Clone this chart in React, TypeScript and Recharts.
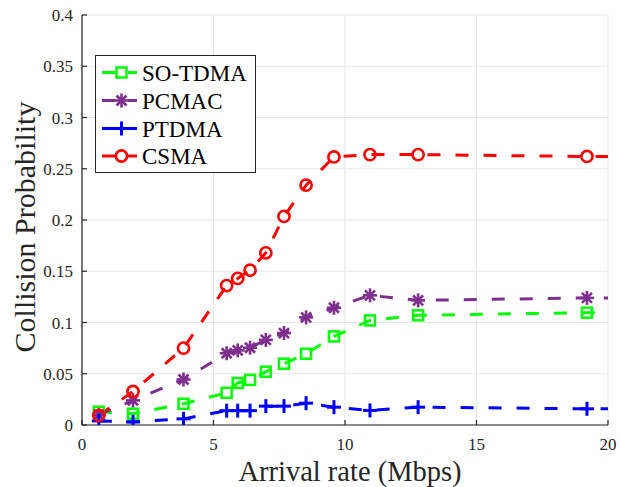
import React from 'react';
import { LineChart, Line, XAxis, YAxis, CartesianGrid } from 'recharts';

// Arrival rate (Mbps) of each simulated operating point; the last one lies past the axis limit.
const rates = [0.64, 1.94, 3.86, 5.5, 5.92, 6.39, 6.99, 7.68, 8.52, 9.58, 10.95, 12.78, 19.2, 25.6];

// Collision probability per protocol.
const soTdma = [0.013, 0.011, 0.0207, 0.0314, 0.041, 0.044, 0.052, 0.0598, 0.0695, 0.0864, 0.102, 0.107, 0.1096, 0.11];
const pcmac = [0.01, 0.024, 0.0444, 0.07, 0.0728, 0.0754, 0.083, 0.0897, 0.105, 0.1144, 0.1265, 0.1216, 0.124, 0.124];
const ptdma = [0.004, 0.003, 0.006, 0.014, 0.014, 0.014, 0.0184, 0.0184, 0.0213, 0.0174, 0.0142, 0.0174, 0.0158, 0.0158];
const csma = [0.0093, 0.0327, 0.075, 0.136, 0.143, 0.151, 0.168, 0.2035, 0.234, 0.2615, 0.2638, 0.2638, 0.262, 0.262];

const xTicks = [0, 5, 10, 15, 20];
const yTicks = [0, 0.05, 0.1, 0.15, 0.2, 0.25, 0.3, 0.35, 0.4];

type MarkerKind = 'square' | 'asterisk' | 'plus' | 'circle';

const seriesDefs: { key: string; name: string; color: string; marker: MarkerKind; values: number[] }[] = [
  { key: 'soTdma', name: 'SO-TDMA', color: '#00ff00', marker: 'square', values: soTdma },
  { key: 'pcmac', name: 'PCMAC', color: '#7e2f8e', marker: 'asterisk', values: pcmac },
  { key: 'ptdma', name: 'PTDMA', color: '#0000ff', marker: 'plus', values: ptdma },
  { key: 'csma', name: 'CSMA', color: '#ff0000', marker: 'circle', values: csma },
];

const data = rates.map((rate, i) => {
  const row: Record<string, number> = { rate };
  seriesDefs.forEach((s) => {
    row[s.key] = s.values[i];
  });
  return row;
});

const FONT = "'Liberation Serif', 'Times New Roman', serif";
const AXIS_COLOR = '#262626';
const DASH = '13 15';

function markerShape(kind: MarkerKind, cx: number, cy: number, color: string) {
  switch (kind) {
    case 'square':
      return <rect x={cx - 5} y={cy - 5} width={10} height={10} fill="none" stroke={color} strokeWidth={2.5} />;
    case 'circle':
      return <circle cx={cx} cy={cy} r={5.6} fill="none" stroke={color} strokeWidth={2.6} />;
    case 'plus':
      return (
        <g stroke={color} strokeWidth={3}>
          <line x1={cx - 7} y1={cy} x2={cx + 7} y2={cy} />
          <line x1={cx} y1={cy - 7} x2={cx} y2={cy + 7} />
        </g>
      );
    case 'asterisk':
    default:
      return (
        <g stroke={color} strokeWidth={2.6}>
          <line x1={cx - 7} y1={cy} x2={cx + 7} y2={cy} />
          <line x1={cx} y1={cy - 7} x2={cx} y2={cy + 7} />
          <line x1={cx - 5} y1={cy - 5} x2={cx + 5} y2={cy + 5} />
          <line x1={cx - 5} y1={cy + 5} x2={cx + 5} y2={cy - 5} />
        </g>
      );
  }
}

function makeDot(kind: MarkerKind, color: string) {
  return (props: any) => {
    const { cx, cy, index } = props;
    if (cx == null || cy == null) return <g key={`d-${index}`} />;
    return <g key={`d-${index}`}>{markerShape(kind, cx, cy, color)}</g>;
  };
}

// Tick labels for the bottom axis, hanging below the given anchor point.
function XTick(props: any) {
  const { x, y, payload } = props;
  return (
    <text
      x={x}
      y={y}
      dy="0.71em"
      textAnchor="middle"
      fill={AXIS_COLOR}
      style={{ fontFamily: FONT, fontSize: 17 }}
    >
      {String(payload.value)}
    </text>
  );
}

// Tick labels for the left axis, right-aligned and vertically centred.
function YTick(props: any) {
  const { x, y, payload } = props;
  return (
    <text
      x={x}
      y={y}
      dy="0.355em"
      textAnchor="end"
      fill={AXIS_COLOR}
      style={{ fontFamily: FONT, fontSize: 17 }}
    >
      {String(payload.value)}
    </text>
  );
}

function YTitle(props: any) {
  const vb = props.viewBox || {};
  const cx = 24;
  const cy = vb.y + vb.height / 2 + 7;
  return (
    <text
      x={cx}
      y={cy}
      transform={`rotate(-90, ${cx}, ${cy})`}
      textAnchor="middle"
      dominantBaseline="central"
      style={{ fontFamily: FONT, fontSize: 30 }}
      fill={AXIS_COLOR}
    >
      Collision Probability
    </text>
  );
}

function XTitle(props: any) {
  const vb = props.viewBox || {};
  return (
    <text
      x={vb.x + vb.width / 2 + 5}
      y={481}
      textAnchor="middle"
      style={{ fontFamily: FONT, fontSize: 28.5 }}
      fill={AXIS_COLOR}
    >
      Arrival rate (Mbps)
    </text>
  );
}

function LegendBox() {
  const rowY = [17.5, 45.5, 73.5, 101];
  return (
    <svg
      width={162}
      height={118}
      style={{ position: 'absolute', left: 95, top: 55, overflow: 'visible' }}
    >
      <rect x={0.5} y={0.5} width={160} height={117} fill="#ffffff" stroke={AXIS_COLOR} strokeWidth={1} />
      {seriesDefs.map((s, i) => (
        <g key={s.key}>
          <line
            x1={7}
            y1={rowY[i]}
            x2={42}
            y2={rowY[i]}
            stroke={s.color}
            strokeWidth={3}
            strokeDasharray="13 13"
          />
          {markerShape(s.marker, 26.5, rowY[i], s.color)}
          <text x={47} y={rowY[i] + 8} style={{ fontFamily: FONT, fontSize: 23 }} fill="#000000">
            {s.name}
          </text>
        </g>
      ))}
    </svg>
  );
}

export default function App() {
  return (
    <div
      style={{
        position: 'absolute',
        left: 0,
        top: 0,
        width: 621,
        height: 487,
        background: '#ffffff',
        fontFamily: FONT,
      }}
    >
      <LineChart
        width={621}
        height={487}
        data={data}
        margin={{ top: 15, right: 13, bottom: 0, left: 0 }}
        style={{ fontFamily: FONT }}
      >
        <CartesianGrid stroke="#e6e6e6" strokeWidth={1} />
        <XAxis
          dataKey="rate"
          type="number"
          domain={[0, 20]}
          ticks={xTicks}
          allowDataOverflow
          height={62}
          tick={<XTick />}
          tickSize={-5}
          tickMargin={18}
          stroke={AXIS_COLOR}
          axisLine={{ stroke: AXIS_COLOR, strokeWidth: 1.2 }}
          tickLine={{ stroke: AXIS_COLOR, strokeWidth: 1.2 }}
          label={<XTitle />}
        />
        <XAxis
          xAxisId="top"
          orientation="top"
          dataKey="rate"
          type="number"
          domain={[0, 20]}
          ticks={xTicks}
          allowDataOverflow
          height={0}
          tick={false}
          tickSize={-5}
          axisLine={{ stroke: AXIS_COLOR, strokeWidth: 1.2 }}
          tickLine={{ stroke: AXIS_COLOR, strokeWidth: 1.2 }}
        />
        <YAxis
          type="number"
          domain={[0, 0.4]}
          ticks={yTicks}
          allowDataOverflow
          width={82}
          tick={<YTick />}
          tickSize={-5}
          tickMargin={14}
          axisLine={{ stroke: AXIS_COLOR, strokeWidth: 1.2 }}
          tickLine={{ stroke: AXIS_COLOR, strokeWidth: 1.2 }}
          label={<YTitle />}
        />
        <YAxis
          yAxisId="right"
          orientation="right"
          type="number"
          domain={[0, 0.4]}
          ticks={yTicks}
          width={0}
          tick={false}
          tickSize={-5}
          axisLine={{ stroke: AXIS_COLOR, strokeWidth: 1.2 }}
          tickLine={{ stroke: AXIS_COLOR, strokeWidth: 1.2 }}
        />
        {seriesDefs.map((s) => (
          <Line
            key={s.key}
            dataKey={s.key}
            name={s.name}
            type="linear"
            stroke={s.color}
            strokeWidth={3}
            strokeDasharray={DASH}
            dot={makeDot(s.marker, s.color)}
            activeDot={false}
            isAnimationActive={false}
          />
        ))}
      </LineChart>
      <LegendBox />
    </div>
  );
}
